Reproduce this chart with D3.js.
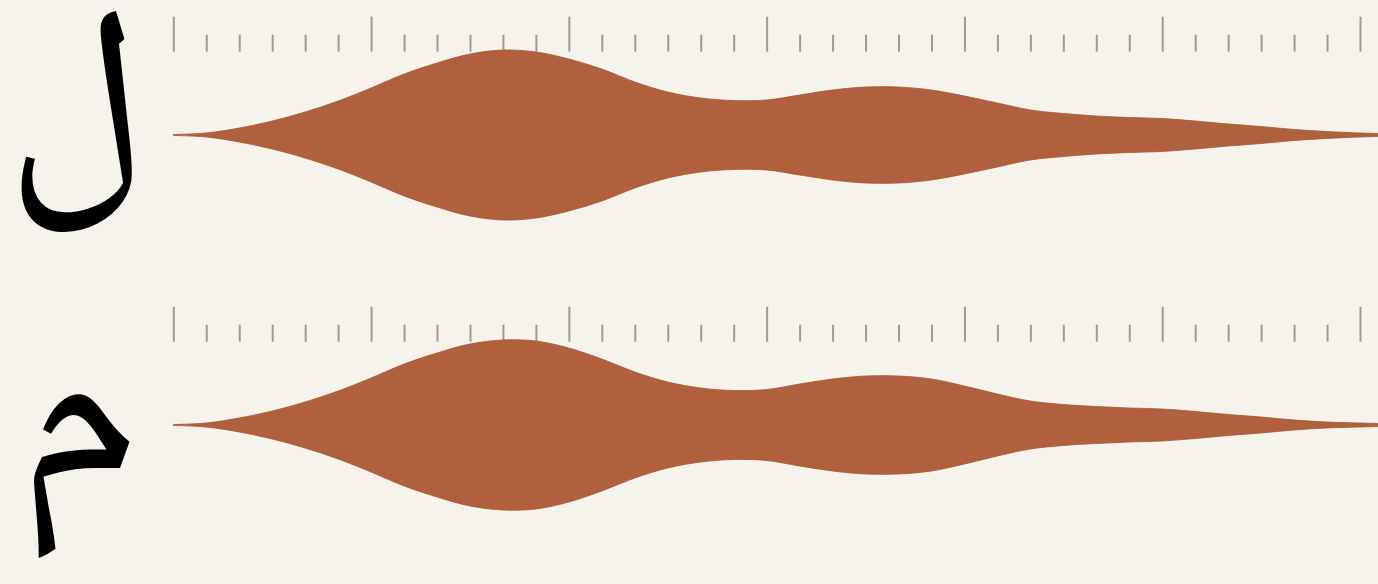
<!DOCTYPE html>
<html>
<head>
<meta charset="utf-8">
<script src="https://cdn.jsdelivr.net/npm/d3@7"></script>
<style>
  html, body { margin: 0; padding: 0; background: #f6f3ed; }
  svg { display: block; }
</style>
</head>
<body>
<svg id="vis" width="1378" height="584"></svg>
<script>
// letters, one row each
var letters = ["ل", "م"];

// positions along the strip (tick units, majors every 6)
var positions = [0, 1, 2, 3, 4, 5, 6, 7, 8, 9, 10, 11, 12, 13, 14, 15, 16, 17, 18,
                 19, 20, 21, 22, 23, 24, 25, 26, 27, 28, 29, 30, 31, 32, 33, 34, 35, 36, 36.6];

// half widths
var lamValues = [0.5, 2, 7, 14, 23, 34, 47, 61, 72, 81, 85, 83, 76, 66, 53, 43, 37, 34.5, 35,
                 40, 45, 48, 48, 45, 39, 32, 25, 21.5, 19, 17.5, 16.5, 14, 11, 8.5, 5.5, 3.5, 2, 1.5];
var meemValues = [0.5, 2, 7, 14, 23, 34, 47, 61, 72, 81, 85, 84, 77, 66, 53, 43, 37, 34.5, 35.5,
                  41, 46, 49, 49, 46, 39, 31, 24, 20.5, 18.5, 17, 16, 13.5, 10.5, 8, 5, 3, 2, 1.5];

var series = [lamValues, meemValues];

var majorTicks = [0, 6, 12, 18, 24, 30, 36];
var minorTicks = d3.range(0, 37).filter(function(t) { return t % 6 != 0; });

var svg = d3.select("svg#vis");

var rowTop = [0, 290];
var centerY = 135;
var tickBase = 51.7;

var xScale = d3.scaleLinear()
    .domain([0, 36])
    .range([173.3, 1360]);

var widthScale = d3.scaleLinear()
    .domain([0, 85])
    .range([0, 85]);

for (let i = 0; i < letters.length; i++) {
    let row = svg.append("g")
        .attr("transform", "translate(0," + rowTop[i] + ")");

    let majorAxis = d3.axisTop(xScale)
        .tickValues(majorTicks)
        .tickSize(35)
        .tickFormat("");
    let minorAxis = d3.axisTop(xScale)
        .tickValues(minorTicks)
        .tickSize(17)
        .tickFormat("");

    let g1 = row.append("g").attr("transform", "translate(0," + tickBase + ")").call(majorAxis);
    let g2 = row.append("g").attr("transform", "translate(0," + tickBase + ")").call(minorAxis);
    [g1, g2].forEach(function(g) {
        g.select(".domain").remove();
        g.selectAll(".tick line")
            .attr("stroke", "#a6978e")
            .attr("stroke-width", 2);
    });

    let pts = positions.map(function(p, j) { return { x: p, v: series[i][j] }; });

    let area = d3.area()
        .x(function(d) { return xScale(d.x); })
        .y0(function(d) { return centerY + widthScale(d.v); })
        .y1(function(d) { return centerY - widthScale(d.v); })
        .curve(d3.curveCatmullRom.alpha(0.5));

    row.append("path")
        .attr("d", area(pts))
        .attr("fill", "#b1603d")
        .attr("stroke", "#a4552f")
        .attr("stroke-width", 0.8);
}

// big letters on the left
svg.append("text")
    .attr("x", 76)
    .attr("y", 170)
    .style("font-family", "'Noto Naskh Arabic', 'Noto Sans Arabic', 'DejaVu Sans', serif")
    .style("font-size", "237px")
    .style("text-anchor", "middle")
    .style("fill", "#000")
    .text(letters[0]);

svg.append("text")
    .attr("x", 78)
    .attr("y", 482)
    .style("font-family", "'Noto Naskh Arabic', 'Noto Sans Arabic', 'DejaVu Sans', serif")
    .style("font-size", "250px")
    .style("text-anchor", "middle")
    .style("fill", "#000")
    .text(letters[1]);
</script>
</body>
</html>
